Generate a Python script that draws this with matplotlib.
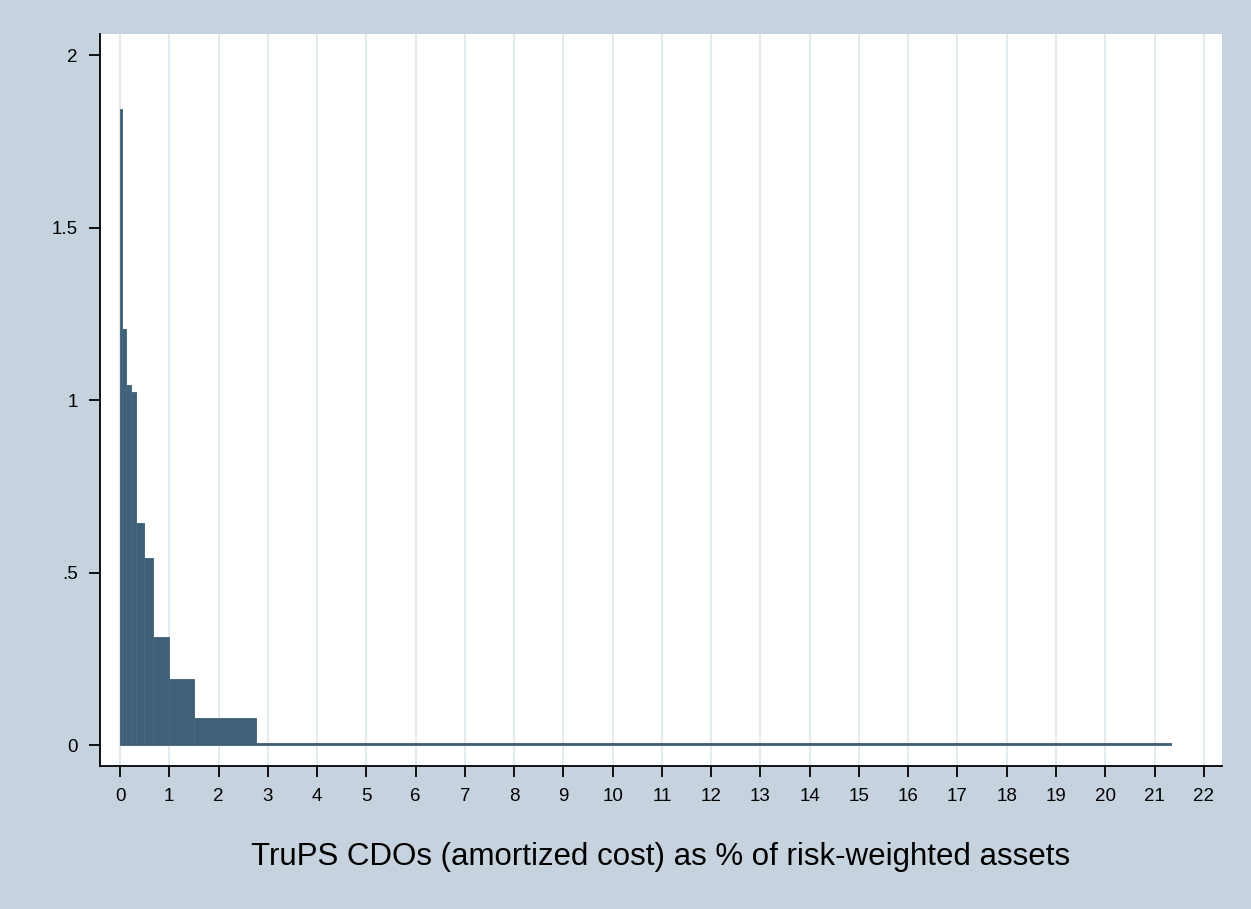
import numpy as np
import matplotlib
matplotlib.use('Agg')
import matplotlib.pyplot as plt

# 区間の境界と密度（十分位ごとのヒストグラム）
bin_edges = [0.0, 0.05, 0.12, 0.22, 0.32, 0.49, 0.67, 1.0, 1.5, 2.76, 21.34]
densities = [1.845, 1.205, 1.043, 1.024, 0.643, 0.543, 0.314, 0.192, 0.079, 0.0054]

x_ticks = list(range(0, 23))
y_ticks = [0, 0.5, 1, 1.5, 2]
y_tick_labels = ['0', '.5', '1', '1.5', '2']
x_label = 'TruPS CDOs (amortized cost) as % of risk-weighted assets'

plt.rcParams['font.family'] = ['Liberation Sans', 'DejaVu Sans']

BG = '#C6D3DF'
BAR = '#3E6079'

fig = plt.figure(figsize=(12.51, 9.09), dpi=100, facecolor=BG)
ax = fig.add_axes([100 / 1251, 1 - 765.7 / 909, 1122 / 1251, 731.7 / 909])
ax.set_facecolor('white')

edges = np.array(bin_edges)
widths = np.diff(edges)
ax.bar(edges[:-1], densities, width=widths, align='edge',
       color=BAR, edgecolor='#4A6A82', linewidth=0.7, zorder=3)

# 縦方向のグリッドのみ
for xv in x_ticks:
    ax.axvline(xv, color='#E4ECF1', linewidth=1.5, zorder=1)

ax.set_xlim(-0.406, 22.37)
ax.set_ylim(-0.06, 2.061)
ax.set_xticks(x_ticks)
ax.set_xticklabels([str(v) for v in x_ticks])
ax.set_yticks(y_ticks)
ax.set_yticklabels(y_tick_labels)

for side in ['top', 'right']:
    ax.spines[side].set_visible(False)
for side in ['left', 'bottom']:
    ax.spines[side].set_linewidth(1.3)
    ax.spines[side].set_color('black')

ax.tick_params(axis='both', direction='out', length=8, width=1.3,
               labelsize=13.5, colors='black', pad=8)
ax.set_xlabel(x_label, fontsize=22.5, labelpad=27)

fig.savefig('out.png', dpi=100, facecolor=BG)
